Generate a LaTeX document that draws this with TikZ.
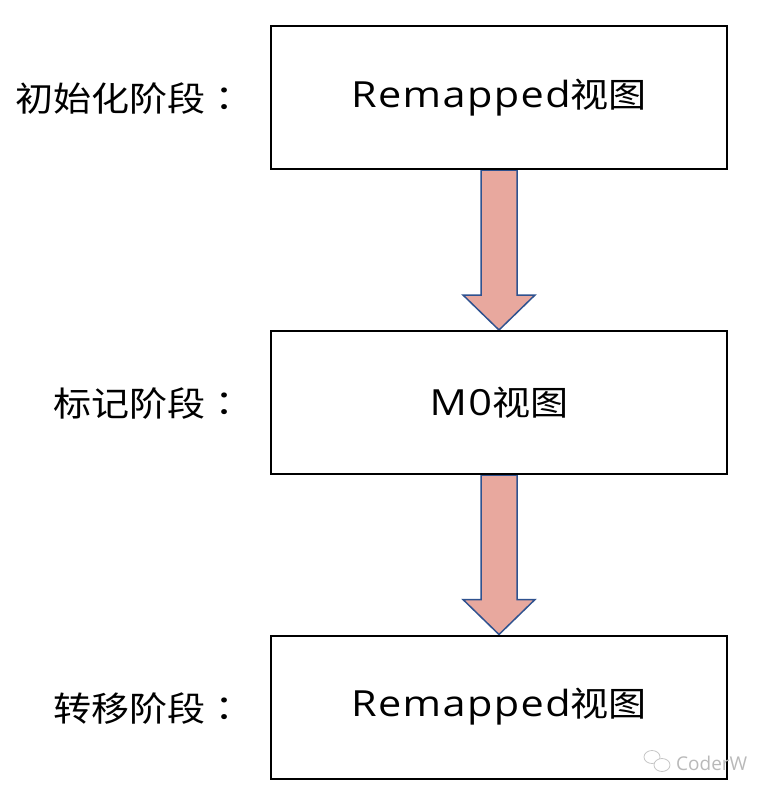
\documentclass[tikz,border=0pt]{standalone}
\usepackage{fontspec}
\setmainfont[FakeStretch=1.15,LetterSpace=4]{Open Sans}
\newfontfamily\cjk[FakeStretch=1.12]{Noto Sans CJK SC}
\newfontfamily\cjkpunct[FakeStretch=1.12]{Noto Sans CJK TC}
\newfontfamily\markfont{Open Sans}
\usetikzlibrary{calc,backgrounds}
\definecolor{arrowfill}{RGB}{232,168,158}
\definecolor{arrowline}{RGB}{47,82,143}
\newcommand\cjkbig{\cjk\fontsize{34bp}{40bp}\selectfont}
\tikzset{>=latex,
  stagebox/.style={draw, line width=2bp, minimum width=456bp, minimum height=143bp, inner sep=0pt, font=\fontsize{36bp}{40bp}\selectfont},
  stagelabel/.style={anchor=east, inner sep=0pt, font=\cjkbig},
  fatarrow/.style={fill=arrowfill, draw=arrowline, line width=1.5bp, line join=miter}}

\begin{document}
\begin{tikzpicture}[x=1bp,y=-1bp]
\useasboundingbox (0,0) rectangle (770,794);

	\node[stagebox] (remapa) at (499,97.5) {Remapped{\cjkbig 视图}};
	\node[stagebox] (mzero) at (499,402.5) {M0{\cjkbig 视图}};
	\node[stagebox] (remapb) at (499,707) {Remapped{\cjkbig 视图}};

	\node[stagelabel] (inita) at (244,99) {初始化阶段{\cjkpunct ：}};
	\node[stagelabel] (marka) at (244,404) {标记阶段{\cjkpunct ：}};
	\node[stagelabel] (movea) at (244,708.5) {转移阶段{\cjkpunct ：}};

% block arrows between the stages
\begin{scope}[on background layer]
\foreach \a/\b in {remapa/mzero, mzero/remapb}
	\draw[fatarrow] ($(\a.south)+(-18,0)$) -- ($(\a.south)+(18,0)$) -- ($(\b.north)+(18,-35)$) -- ($(\b.north)+(36,-35)$) -- (\b.north) -- ($(\b.north)+(-36,-35)$) -- ($(\b.north)+(-18,-35)$) -- cycle;
\end{scope}

% watermark
	\draw[gray!45, line width=.8bp] (652,757) ellipse (8 and 6.5);
	\draw[gray!45, line width=.8bp, fill=white] (662,765) ellipse (8 and 6.5);
	\node[gray!55, inner sep=0pt, anchor=west, font=\markfont\fontsize{19bp}{22bp}\selectfont] (wmark) at (676,763) {CoderW};
\end{tikzpicture}
\end{document}
